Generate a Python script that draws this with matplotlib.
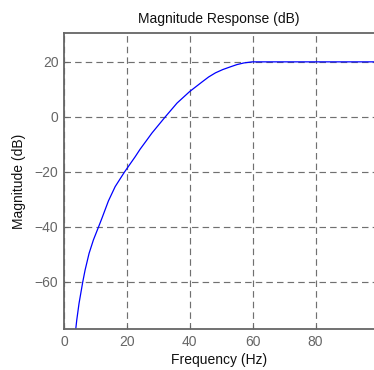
import numpy as np
import matplotlib.pyplot as plt

plt.rcParams['font.family'] = ['Liberation Sans', 'DejaVu Sans']

# magnitude response
freq_hz = [3.2, 3.73, 4.05, 4.78, 5.96, 6.70, 7.97, 9.35, 10.94, 12.03, 14.13,
           16.27, 19.23, 22.65, 24.2, 26.38, 27.97, 32.22, 35.95, 39.97, 43.92,
           46.0, 48.17, 50.5, 52.95, 55.0, 57.19, 59.87, 70.0, 80.0, 90.0, 99.0]
mag_db = [-90.0, -77.3, -74.0, -67.9, -60.1, -55.8, -49.7, -44.8, -40.2, -37.0,
          -30.6, -25.4, -20.1, -14.5, -11.8, -8.4, -5.9, 0.0, 5.0, 9.2, 12.7,
          14.5, 16.0, 17.2, 18.2, 19.0, 19.6, 20.0, 20.0, 20.0, 20.0, 20.0]

x_ticks = [0, 20, 40, 60, 80]
y_ticks = [-60, -40, -20, 0, 20]

fig = plt.figure(figsize=(3.74, 3.70), dpi=100)
ax = fig.add_axes([64 / 374, 1 - 329 / 370, 310 / 374, 296 / 370])

ax.plot(freq_hz, mag_db, color='#0000ff', lw=0.9)

ax.set_xlim(0, 98.6)
ax.set_ylim(-77.2, 30.5)
ax.set_xticks(x_ticks)
ax.set_yticks(y_ticks)

ax.grid(True, color='#707070', linestyle=(0, (5.5, 3.5)), lw=0.85)
ax.tick_params(direction='in', length=3, colors='#666666', labelsize=10, pad=4)
for side in ['left', 'bottom', 'top']:
    ax.spines[side].set_color('#666666')
    ax.spines[side].set_linewidth(1.3)
ax.spines['right'].set_visible(False)

ax.set_title('Magnitude Response (dB)', fontsize=10, color='#111111', pad=7)
ax.set_xlabel('Frequency (Hz)', fontsize=10, color='#111111', labelpad=3)
ax.set_ylabel('Magnitude (dB)', fontsize=10, color='#111111', labelpad=6)

fig.savefig('out.png', dpi=100)
